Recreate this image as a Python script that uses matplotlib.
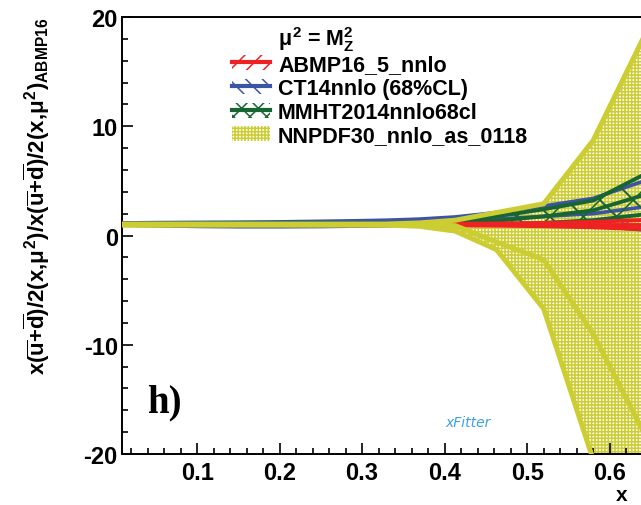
import matplotlib
matplotlib.use('Agg')
import matplotlib.pyplot as plt
from matplotlib.patches import Patch
from matplotlib.lines import Line2D
from matplotlib.ticker import MultipleLocator

# x grid of the ratio curves
x = [0.009, 0.05, 0.1, 0.15, 0.2, 0.25, 0.294, 0.329, 0.369, 0.413, 0.463, 0.52, 0.58, 0.65]

# ABMP16_5_nnlo (reference set)
abmp_up  = [1.05, 1.05, 1.05, 1.05, 1.05, 1.05, 1.05, 1.05, 1.06, 1.07, 1.1, 1.15, 1.25, 1.45]
abmp_cen = [1.0, 1.0, 1.0, 1.0, 1.0, 1.0, 1.0, 1.0, 1.0, 1.0, 1.0, 1.0, 1.0, 1.0]
abmp_lo  = [0.95, 0.95, 0.95, 0.95, 0.95, 0.95, 0.95, 0.95, 0.94, 0.93, 0.9, 0.85, 0.75, 0.55]

# CT14nnlo (68%CL)
ct14_up  = [1.15, 1.18, 1.2, 1.22, 1.25, 1.3, 1.35, 1.4, 1.5, 1.7, 2.1, 2.7, 3.4, 5.2]
ct14_cen = [1.0, 1.0, 1.0, 1.0, 1.0, 1.02, 1.05, 1.1, 1.2, 1.3, 1.5, 1.75, 2.0, 2.7]
ct14_lo  = [0.95, 0.9, 0.83, 0.8, 0.8, 0.82, 0.86, 0.9, 0.93, 0.95, 0.95, 0.95, 0.9, 0.45]

# MMHT2014nnlo68cl
mmht_up  = [1.1, 1.1, 1.12, 1.14, 1.15, 1.15, 1.12, 1.1, 1.15, 1.35, 1.75, 2.4, 3.2, 5.9]
mmht_cen = [1.0, 1.0, 1.0, 1.0, 1.0, 1.0, 1.0, 1.0, 1.05, 1.15, 1.35, 1.75, 2.3, 3.9]
mmht_lo  = [0.95, 0.95, 0.95, 0.95, 0.95, 0.95, 0.95, 0.95, 0.97, 1.0, 1.0, 1.15, 1.4, 2.0]

# NNPDF30_nnlo_as_0118
nnpdf_up  = [1.05, 1.05, 1.05, 1.05, 1.05, 1.05, 1.05, 1.05, 1.15, 1.4, 2.1, 2.9, 8.7, 19.5]
nnpdf_cen = [1.0, 1.0, 1.0, 1.0, 1.0, 1.0, 1.0, 1.0, 1.0, 0.9, -0.6, -2.2, -9.0, -19.3]
nnpdf_lo  = [0.95, 0.95, 0.95, 0.95, 0.95, 0.95, 0.95, 0.95, 0.85, 0.4, -1.3, -6.7, -20.5, -40.0]

xticks = [0.1, 0.2, 0.3, 0.4, 0.5, 0.6]
yticks = [-20, -10, 0, 10, 20]

red, blue, green, yellow = '#ee2222', '#3b54a6', '#176632', '#cccc33'

plt.rcParams['font.family'] = 'Liberation Sans'
plt.rcParams['font.weight'] = 'bold'
plt.rcParams['axes.unicode_minus'] = False
plt.rcParams['mathtext.fontset'] = 'custom'
plt.rcParams['mathtext.rm'] = 'Liberation Sans:bold'
plt.rcParams['mathtext.bf'] = 'Liberation Sans:bold'
plt.rcParams['mathtext.it'] = 'Liberation Sans'
plt.rcParams['hatch.linewidth'] = 1.1

fig = plt.figure(figsize=(6.41, 5.06), dpi=100)
ax = fig.add_axes([122/641, 51/506, 519/641, 437/506])

def band(up, cen, lo, col, hatch, lw, zfill, zline):
    ax.fill_between(x, lo, up, facecolor='none', edgecolor=col, hatch=hatch, linewidth=0, zorder=zfill)
    for yy in (up, cen, lo):
        ax.plot(x, yy, color=col, lw=lw, solid_joinstyle='miter', zorder=zline)

# yellow hatch sits under the others, its edge lines on top
band(nnpdf_up, nnpdf_cen, nnpdf_lo, yellow, '+++++', 3.6, 1, 6)
band(ct14_up, ct14_cen, ct14_lo, blue, '\\', 2.6, 2, 2.1)
band(mmht_up, mmht_cen, mmht_lo, green, 'x', 2.8, 3, 3.1)
band(abmp_up, abmp_cen, abmp_lo, red, '//', 2.8, 4, 4.1)

ax.set_xlim(0.009, 0.638)
ax.set_ylim(-20, 20)
ax.set_xticks(xticks)
ax.set_yticks(yticks)
ax.set_xticklabels([str(t) for t in xticks])
ax.xaxis.set_minor_locator(MultipleLocator(0.02))
ax.yaxis.set_minor_locator(MultipleLocator(2))
ax.tick_params(which='both', direction='in', top=False, right=False, width=1.2, labelsize=17)
ax.tick_params(which='major', length=8)
ax.tick_params(which='minor', length=4)
ax.tick_params(axis='x', pad=5)
ax.tick_params(axis='y', pad=3)
ax.spines['right'].set_visible(False)
for s in ('left', 'bottom', 'top'):
    ax.spines[s].set_linewidth(1.4)

ylab = (r'x($\overline{\mathrm{u}}$+$\overline{\mathrm{d}}$)/2(x,$\mu^{2}$)/'
        r'x($\overline{\mathrm{u}}$+$\overline{\mathrm{d}}$)/2(x,$\mu^{2}$)$_{\mathrm{ABMP16}}$')
fig.text(37/641, 1 - 18/506, ylab, rotation=90, ha='center', va='top', fontsize=16)
fig.text(622/641, 1/506, 'x', ha='center', va='bottom', fontsize=15)

# legend
handles = [
    (Patch(facecolor='none', edgecolor=red, hatch='//', lw=0), Line2D([], [], color=red, lw=3)),
    (Patch(facecolor='none', edgecolor=blue, hatch='\\\\', lw=0), Line2D([], [], color=blue, lw=3)),
    (Patch(facecolor='none', edgecolor=green, hatch='xx', lw=0), Line2D([], [], color=green, lw=3)),
    Patch(facecolor='none', edgecolor=yellow, hatch='+++++', lw=0),
]
labels = ['ABMP16_5_nnlo', 'CT14nnlo (68%CL)', 'MMHT2014nnlo68cl', 'NNPDF30_nnlo_as_0118']
ax.legend(handles, labels, loc='upper left', bbox_to_anchor=(232/641, 1 - 55/506),
          bbox_transform=fig.transFigure, frameon=False, fontsize=15.5,
          handlelength=1.77, handleheight=0.7, handletextpad=0.37,
          labelspacing=0.13, borderpad=0, borderaxespad=0)
fig.text(278/641, 1 - 40/506, r'$\mu^{2}$ = M$_{\mathrm{Z}}^{\mathrm{2}}$', ha='left', va='center', fontsize=15.5)

fig.text(147/641, 1 - 412/506, 'h)', family='Liberation Serif', weight='bold', fontsize=28,
         ha='left', va='baseline')
fig.text(445/641, 1 - 423/506, 'xFitter', family='DejaVu Sans', style='italic', weight='normal',
         color='#3fa0e0', fontsize=10, ha='left', va='center')

fig.savefig('out.png', dpi=100)
